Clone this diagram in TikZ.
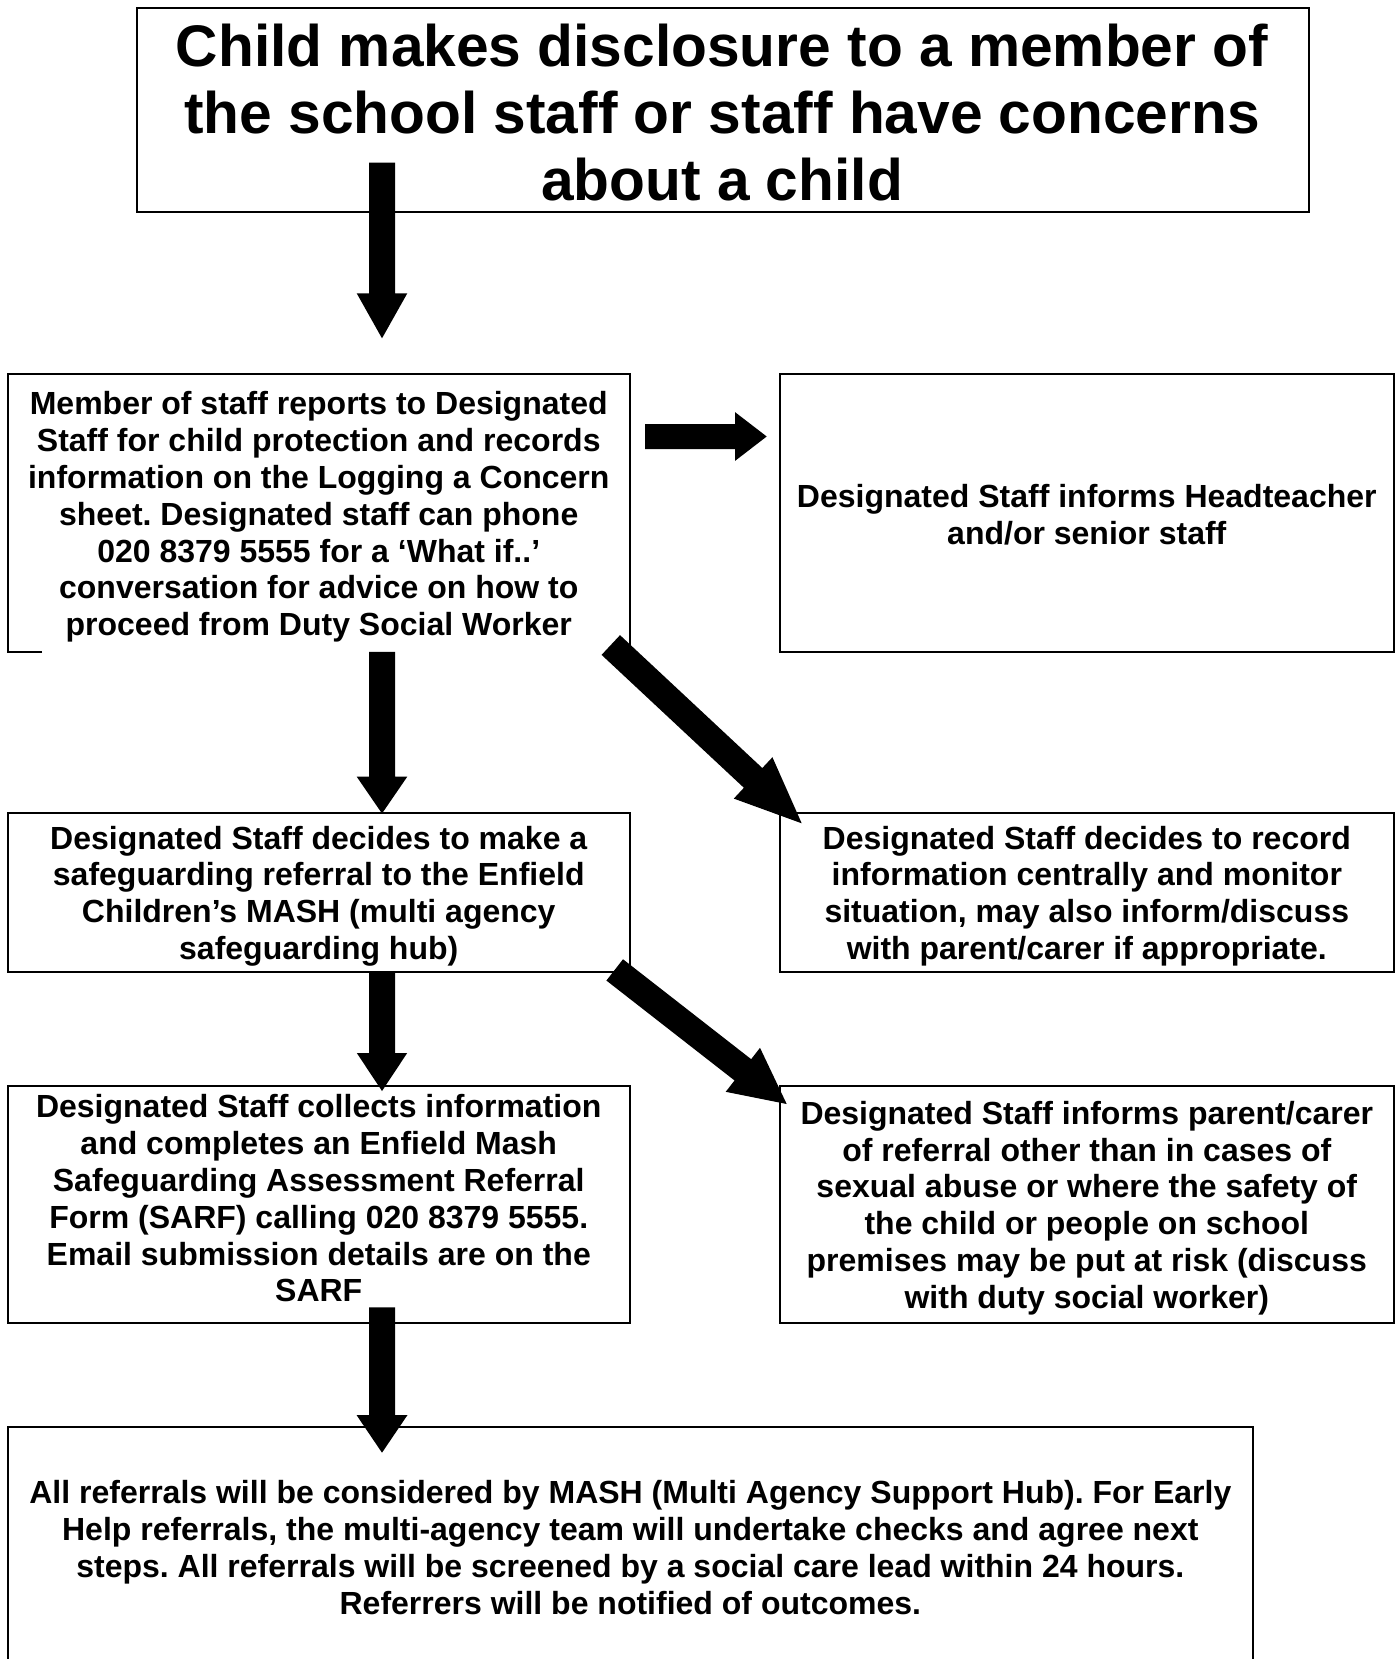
\documentclass[tikz,border=0pt]{standalone}
\usepackage{fontspec}
\setmainfont{Liberation Sans}
\usetikzlibrary{calc}
\frenchspacing
% block arrow: #1 start, #2 tip, #3 shaft half width, #4 head half width, #5 head length
\newcommand\flowarrow[5]{%
  \path ($(#2)!#5!(#1)$) coordinate (fahead);
  \fill[barrow] ($(#1)!#3!90:(#2)$) -- ($(fahead)!#3!90:(#2)$) -- ($(fahead)!#4!90:(#2)$)
     -- (#2) -- ($(fahead)!#4!-90:(#2)$) -- ($(fahead)!#3!-90:(#2)$) -- ($(#1)!#3!-90:(#2)$) -- cycle;
}
\begin{document}
\begin{tikzpicture}[x=0.5pt,y=-0.5pt,
  frame/.style={draw=black,line width=1pt,inner sep=0pt,outer sep=0pt},
  noframe/.style={inner sep=0pt,outer sep=0pt},
  edge/.style={line width=1pt,line join=miter},
  body/.style={align=center,inner sep=0pt,font=\bfseries\frenchspacing\fontsize{16pt}{18.4pt}\selectfont},
  title/.style={align=center,inner sep=0pt,font=\bfseries\fontsize{29.33pt}{33.73pt}\selectfont},
  barrow/.style={fill=black}]
\path[use as bounding box, fill=white] (0,0) rectangle (1400,1659);

% boxes
\node[frame,minimum width=586.25pt,minimum height=101.85pt] (top) at (722.75,110.15) {};
\node[title] (toptext) at (722,112.5) {Child makes disclosure to a member of\\the school staff or staff have concerns\\about a child};

\node[noframe,minimum width=310.75pt,minimum height=139pt] (l1) at (318.75,513) {};
\draw[edge] ($(l1.south west)+(34,0)$) -- (l1.south west) -- (l1.north west) -- (l1.north east) -- (l1.south east);
\node[body] (l1text) at (318.75,517) {Member of staff reports to Designated\\Staff for child protection and records\\information on the Logging a Concern\\sheet. Designated staff can phone\\020 8379 5555 for a ‘What if..’\\conversation for advice on how to\\proceed from Duty Social Worker};

\node[frame,minimum width=306.8pt,minimum height=139pt] (r1) at (1086.8,513) {};
\node[body] (r1text) at (1086.8,514.5) {Designated Staff informs Headteacher\\and/or senior staff};

\node[frame,minimum width=310.75pt,minimum height=79.45pt] (l2) at (318.75,892.15) {};
\node[body] (l2text) at (318.75,896) {Designated Staff decides to make a\\safeguarding referral to the Enfield\\Children’s MASH (multi agency\\safeguarding hub)};

\node[frame,minimum width=306.8pt,minimum height=79.45pt] (r2) at (1086.8,892.15) {};
\node[body] (r2text) at (1086.8,896) {Designated Staff decides to record\\information centrally and monitor\\situation, may also inform/discuss\\with parent/carer if appropriate.};

\node[frame,minimum width=310.75pt,minimum height=118.5pt] (l3) at (318.75,1204) {};
\node[body] (l3text) at (318.75,1198.5) {Designated Staff collects information\\and completes an Enfield Mash\\Safeguarding Assessment Referral\\Form (SARF) calling 020 8379 5555.\\Email submission details are on the\\SARF};

\node[frame,minimum width=306.8pt,minimum height=118.5pt] (r3) at (1086.8,1204) {};
\node[body] (r3text) at (1086.8,1208) {Designated Staff informs parent/carer\\of referral other than in cases of\\sexual abuse or where the safety of\\the child or people on school\\premises may be put at risk (discuss\\with duty social worker)};

\node[noframe,minimum width=622.35pt,minimum height=121.65pt] (bot) at (630.35,1548.35) {};
\draw[edge] (bot.south west) -- (bot.north west) -- (bot.north east) -- (bot.south east);
\node[body] (bottext) at (630.35,1547.5) {All referrals will be considered by MASH (Multi Agency Support Hub). For Early\\Help referrals, the multi-agency team will undertake checks and agree next\\steps. All referrals will be screened by a social care lead within 24 hours.\\Referrers will be notified of outcomes.};

% arrow end points
\coordinate (aS) at (382,162.7);  \coordinate (aE) at (382,338.3);
\coordinate (bS) at (645,436.5);  \coordinate (bE) at (766.7,436.5);
\coordinate (cS) at (382,651.8);  \coordinate (cE) at (382,813.5);
\coordinate (dS) at (382,971.6);  \coordinate (dE) at (382,1091);
\coordinate (eS) at (382,1307.3); \coordinate (eE) at (382,1452.7);
\coordinate (fS) at (610.8,645);  \coordinate (fE) at (801.7,823.3);
\coordinate (gS) at (614.7,969.9); \coordinate (gE) at (786.7,1104);

\flowarrow{aS}{aE}{6.5pt}{12.65pt}{22.5pt}
\flowarrow{bS}{bE}{6.25pt}{12.2pt}{15.85pt}
\flowarrow{cS}{cE}{6.5pt}{12.7pt}{18.5pt}
\flowarrow{dS}{dE}{6.5pt}{12.6pt}{19pt}
\flowarrow{eS}{eE}{6.5pt}{12.75pt}{18.85pt}
\flowarrow{fS}{fE}{6.75pt}{14.15pt}{33.25pt}
\flowarrow{gS}{gE}{6.75pt}{13.95pt}{27.8pt}
\end{tikzpicture}
\end{document}
